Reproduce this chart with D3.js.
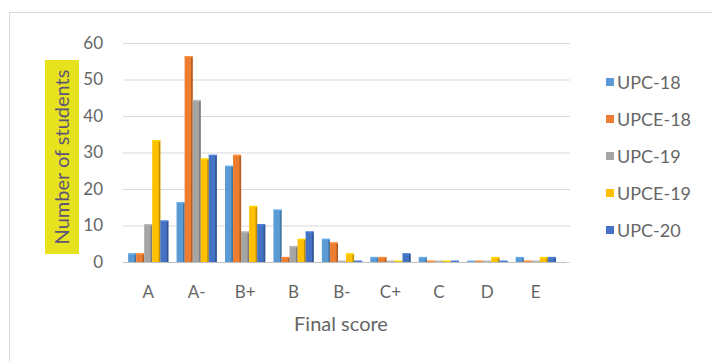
<!DOCTYPE html>
<html><head><meta charset="utf-8">
<script src="https://cdn.jsdelivr.net/npm/d3@7"></script>
<style>
html,body{margin:0;padding:0;background:#fff;}
svg{display:block;font-family:Lato,"Open Sans",sans-serif;}
</style></head>
<body>
<svg id="chart" width="712" height="361"></svg>
<script>
const categories = ["A","A-","B+","B","B-","C+","C","D","E"];
const seriesNames = ["UPC-18","UPCE-18","UPC-19","UPCE-19","UPC-20"];
const upc18  = [2,16,26,14,6,1,1,0,1];
const upce18 = [2,56,29,1,5,1,0,0,0];
const upc19  = [10,44,8,4,0,0,0,0,0];
const upce19 = [33,28,15,6,2,0,0,1,1];
const upc20  = [11,29,10,8,0,2,0,0,1];
const yTicks = [0,10,20,30,40,50,60];
const colors = ["#5B9BD5","#ED7D31","#A5A5A5","#FFC000","#4472C4"];

const seriesValues = [upc18, upce18, upc19, upce19, upc20];

const svg = d3.select("#chart");

// chart frame
svg.append("rect").attr("x",9.5).attr("y",12.5).attr("width",720).attr("height",360)
  .attr("fill","#fff").attr("stroke","#d9d9d9").attr("stroke-width",1);

const x = d3.scaleBand().domain(categories).range([124,560]).paddingInner(0.17).paddingOuter(0.085);
const xs = d3.scaleBand().domain(seriesNames).range([0,x.bandwidth()]);
const y = d3.scaleLinear().domain([0,60]).range([262,43]);

// gridlines
svg.append("g").selectAll("line").data(yTicks).join("line")
  .attr("x1",123).attr("x2",570)
  .attr("y1",d=>y(d)+0.5).attr("y2",d=>y(d)+0.5)
  .attr("stroke","#d9d9d9").attr("stroke-width",1.2);

// y axis tick labels
const yAxis = d3.axisLeft(y).tickValues(yTicks).tickSize(0).tickPadding(0);
const gy = svg.append("g").attr("transform","translate(103,0)").call(yAxis);
gy.select(".domain").remove();
gy.selectAll("text").attr("fill","#666").style("font-size","17px").style("font-family","Lato,sans-serif");

// x axis
const xAxis = d3.axisBottom(x).tickSize(0).tickPadding(0);
const gx = svg.append("g").attr("transform","translate(0,286)").call(xAxis);
gx.select(".domain").remove();
gx.selectAll("text").attr("fill","#666").style("font-size","17px").style("font-family","Lato,sans-serif");

// bars
const data = [];
categories.forEach((c,i)=>{
  seriesNames.forEach((s,j)=>{
    data.push({cat:c, series:s, value:seriesValues[j][i], color:colors[j]});
  });
});
const bars = svg.append("g").selectAll("g").data(data).join("g");
const bw = xs.bandwidth();
bars.append("rect")
  .attr("x",d=>x(d.cat)+xs(d.series))
  .attr("y",d=>y(d.value)-1)
  .attr("width",bw)
  .attr("height",d=>y(0)-y(d.value)+1)
  .attr("fill",d=>d.color);
bars.append("rect")
  .attr("x",d=>x(d.cat)+xs(d.series)+bw-1.6)
  .attr("y",d=>y(d.value)-1)
  .attr("width",1.6)
  .attr("height",d=>y(0)-y(d.value)+1)
  .attr("fill",d=>d3.color(d.color).darker(0.8));
bars.append("rect")
  .attr("x",d=>x(d.cat)+xs(d.series))
  .attr("y",d=>y(d.value)-1.5)
  .attr("width",bw)
  .attr("height",1.5)
  .attr("fill",d=>d3.color(d.color).brighter(0.3));

// baseline
svg.append("line").attr("x1",123).attr("x2",566).attr("y1",y(0)+0.5).attr("y2",y(0)+0.5)
  .attr("stroke","#bfbfbf").attr("stroke-width",1);

// axis titles
svg.append("text").attr("x",341).attr("y",331).attr("text-anchor","middle")
  .attr("fill","#666").style("font-size","20px").text("Final score");

const yl = svg.append("g").attr("transform","translate(62,157) rotate(-90)");
yl.append("rect").attr("x",-97).attr("y",-17).attr("width",194).attr("height",34).attr("fill","#E6E21E");
yl.append("text").attr("x",0).attr("y",7).attr("text-anchor","middle")
  .attr("fill","#5E5577").style("font-size","20px").text("Number of students");

// legend
const lg = svg.append("g").selectAll("g").data(seriesNames).join("g")
  .attr("transform",(d,i)=>`translate(606,${82+i*37})`);
lg.append("rect").attr("x",0).attr("y",-4).attr("width",8).attr("height",8)
  .attr("fill",(d,i)=>colors[i]);
lg.append("text").attr("x",11).attr("y",6.5).attr("fill","#666")
  .style("font-size","18px").text(d=>d);
</script>
</body></html>
